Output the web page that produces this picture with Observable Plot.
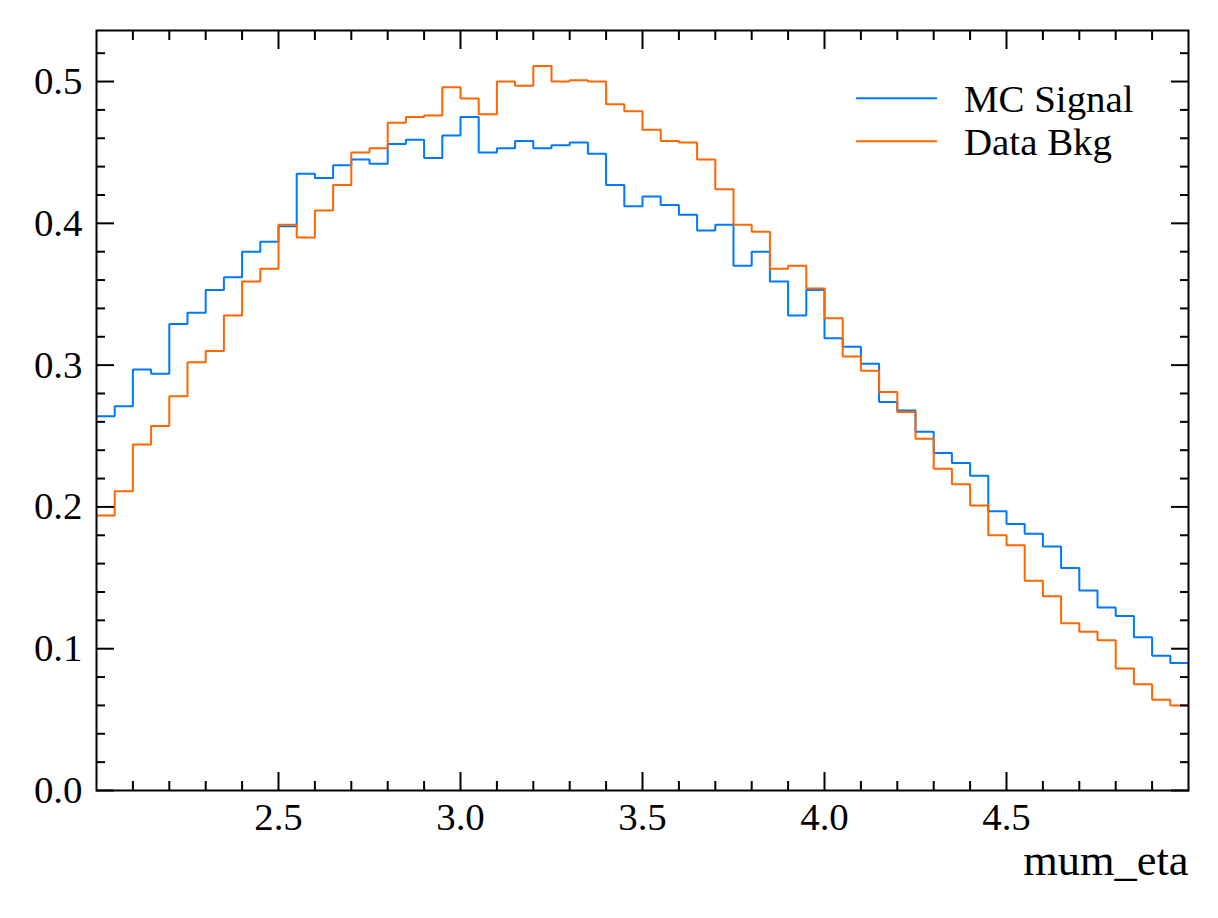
<!DOCTYPE html>
<html>
<head>
<meta charset="utf-8">
<script src="https://cdn.jsdelivr.net/npm/d3@7"></script>
<script src="https://cdn.jsdelivr.net/npm/@observablehq/plot@0.6"></script>
<style>
  html, body { margin: 0; padding: 0; background: #fff; }
  #wrap { position: relative; width: 1218px; height: 918px; font-family: "Liberation Serif", "Times New Roman", serif; }
  #legend { position: absolute; left: 0; top: 0; pointer-events: none; }
</style>
</head>
<body>
<div id="wrap"></div>
<script>
// ---- Data ----
const binStart = 2.0;
const binWidth = 0.05;
const xLabel = "mum_eta";
const seriesNames = ["MC Signal", "Data Bkg"];
const seriesColors = ["#0078FF", "#FF6600"];

const mcSignal = [
  0.264, 0.271, 0.297, 0.294, 0.329, 0.337, 0.353, 0.362, 0.380, 0.387,
  0.398, 0.435, 0.432, 0.441, 0.445, 0.442, 0.456, 0.459, 0.446, 0.462,
  0.475, 0.450, 0.453, 0.458, 0.453, 0.455, 0.457, 0.449, 0.427, 0.412,
  0.419, 0.413, 0.406, 0.395, 0.399, 0.370, 0.380, 0.359, 0.335, 0.353,
  0.319, 0.313, 0.301, 0.274, 0.268, 0.253, 0.238, 0.231, 0.222, 0.197,
  0.188, 0.181, 0.172, 0.157, 0.141, 0.129, 0.123, 0.108, 0.095, 0.090
];
const dataBkg = [
  0.194, 0.211, 0.244, 0.257, 0.278, 0.302, 0.310, 0.335, 0.359, 0.368,
  0.399, 0.390, 0.409, 0.427, 0.450, 0.453, 0.471, 0.475, 0.476, 0.496,
  0.488, 0.477, 0.500, 0.497, 0.511, 0.500, 0.501, 0.500, 0.484, 0.479,
  0.466, 0.458, 0.457, 0.445, 0.424, 0.399, 0.394, 0.368, 0.370, 0.354,
  0.333, 0.306, 0.296, 0.281, 0.267, 0.248, 0.227, 0.216, 0.201, 0.180,
  0.173, 0.148, 0.137, 0.118, 0.112, 0.106, 0.086, 0.075, 0.064, 0.060
];

const xDomain = [2.0, 5.0];
const yDomain = [0, 0.536];
const xMajorTicks = [2.5, 3.0, 3.5, 4.0, 4.5];
const xMinorTicks = [2.1, 2.2, 2.3, 2.4, 2.6, 2.7, 2.8, 2.9, 3.1, 3.2, 3.3, 3.4, 3.6, 3.7, 3.8, 3.9, 4.1, 4.2, 4.3, 4.4, 4.6, 4.7, 4.8, 4.9];
const yMajorTicks = [0.0, 0.1, 0.2, 0.3, 0.4, 0.5];
const yMinorTicks = [0.02, 0.04, 0.06, 0.08, 0.12, 0.14, 0.16, 0.18, 0.22, 0.24, 0.26, 0.28, 0.32, 0.34, 0.36, 0.38, 0.42, 0.44, 0.46, 0.48, 0.52];

// Build step-line tables (bin low edges + closing right edge)
function stepTable(values) {
  const rows = values.map((v, i) => ({x: binStart + i * binWidth, y: v}));
  rows.push({x: binStart + values.length * binWidth, y: values[values.length - 1]});
  return rows;
}
const tables = [stepTable(mcSignal), stepTable(dataBkg)];

const FS = 38.9;
const blank = () => "";
const fmt = d3.format(".1f");

const chart = Plot.plot({
  width: 1218,
  height: 918,
  marginLeft: 96,
  marginRight: 30,
  marginTop: 30,
  marginBottom: 128,
  style: {fontFamily: '"Liberation Serif", "Times New Roman", serif', fontSize: FS + "px", color: "#000", background: "#fff"},
  x: {domain: xDomain},
  y: {domain: yDomain},
  marks: [
    // series
    ...tables.map((t, k) => Plot.line(t, {x: "x", y: "y", curve: "step-after", stroke: seriesColors[k], strokeWidth: 2, strokeLinejoin: "miter", strokeLinecap: "butt"})),
    // inward ticks, all four sides
    Plot.axisX({anchor: "bottom", ticks: xMajorTicks, tickSize: -18, tickFormat: blank, label: null, strokeWidth: 2}),
    Plot.axisX({anchor: "bottom", ticks: xMinorTicks, tickSize: -9, tickFormat: blank, label: null, strokeWidth: 2}),
    Plot.axisX({anchor: "top", ticks: xMajorTicks, tickSize: -18, tickFormat: blank, label: null, strokeWidth: 2}),
    Plot.axisX({anchor: "top", ticks: xMinorTicks, tickSize: -9, tickFormat: blank, label: null, strokeWidth: 2}),
    Plot.axisY({anchor: "left", ticks: yMajorTicks, tickSize: -18, tickFormat: blank, label: null, strokeWidth: 2}),
    Plot.axisY({anchor: "left", ticks: yMinorTicks, tickSize: -9, tickFormat: blank, label: null, strokeWidth: 2}),
    Plot.axisY({anchor: "right", ticks: yMajorTicks, tickSize: -18, tickFormat: blank, label: null, strokeWidth: 2}),
    Plot.axisY({anchor: "right", ticks: yMinorTicks, tickSize: -9, tickFormat: blank, label: null, strokeWidth: 2}),
    // tick labels
    Plot.axisX({anchor: "bottom", ticks: xMajorTicks, tickSize: 0, tickPadding: 12, tickFormat: fmt, label: null, fontSize: FS, fill: "#000"}),
    Plot.axisY({anchor: "left", ticks: yMajorTicks, tickSize: 0, tickPadding: 14, tickFormat: fmt, label: null, fontSize: FS, fill: "#000"}),
    // x label
    Plot.text([xLabel], {frameAnchor: "bottom-right", text: d => d, textAnchor: "end", lineAnchor: "bottom", dy: 84, fontSize: 44.4, fill: "#000"}),
    Plot.frame({stroke: "#000", strokeWidth: 2})
  ]
});

const wrap = document.getElementById("wrap");
wrap.appendChild(chart);

// Legend overlay (upper right, inside frame)
const ns = "http://www.w3.org/2000/svg";
const leg = document.createElementNS(ns, "svg");
leg.setAttribute("id", "legend");
leg.setAttribute("width", 1218);
leg.setAttribute("height", 918);
seriesNames.forEach((name, k) => {
  const y = 98.3 + k * 43;
  const ln = document.createElementNS(ns, "line");
  ln.setAttribute("x1", 856); ln.setAttribute("x2", 937);
  ln.setAttribute("y1", y); ln.setAttribute("y2", y);
  ln.setAttribute("stroke", seriesColors[k]);
  ln.setAttribute("stroke-width", 2);
  leg.appendChild(ln);
  const tx = document.createElementNS(ns, "text");
  tx.setAttribute("x", 964);
  tx.setAttribute("y", y + 13.4);
  tx.setAttribute("font-size", FS);
  tx.setAttribute("font-family", '"Liberation Serif", "Times New Roman", serif');
  tx.setAttribute("fill", "#000");
  tx.textContent = name;
  leg.appendChild(tx);
});
wrap.appendChild(leg);
</script>
</body>
</html>
